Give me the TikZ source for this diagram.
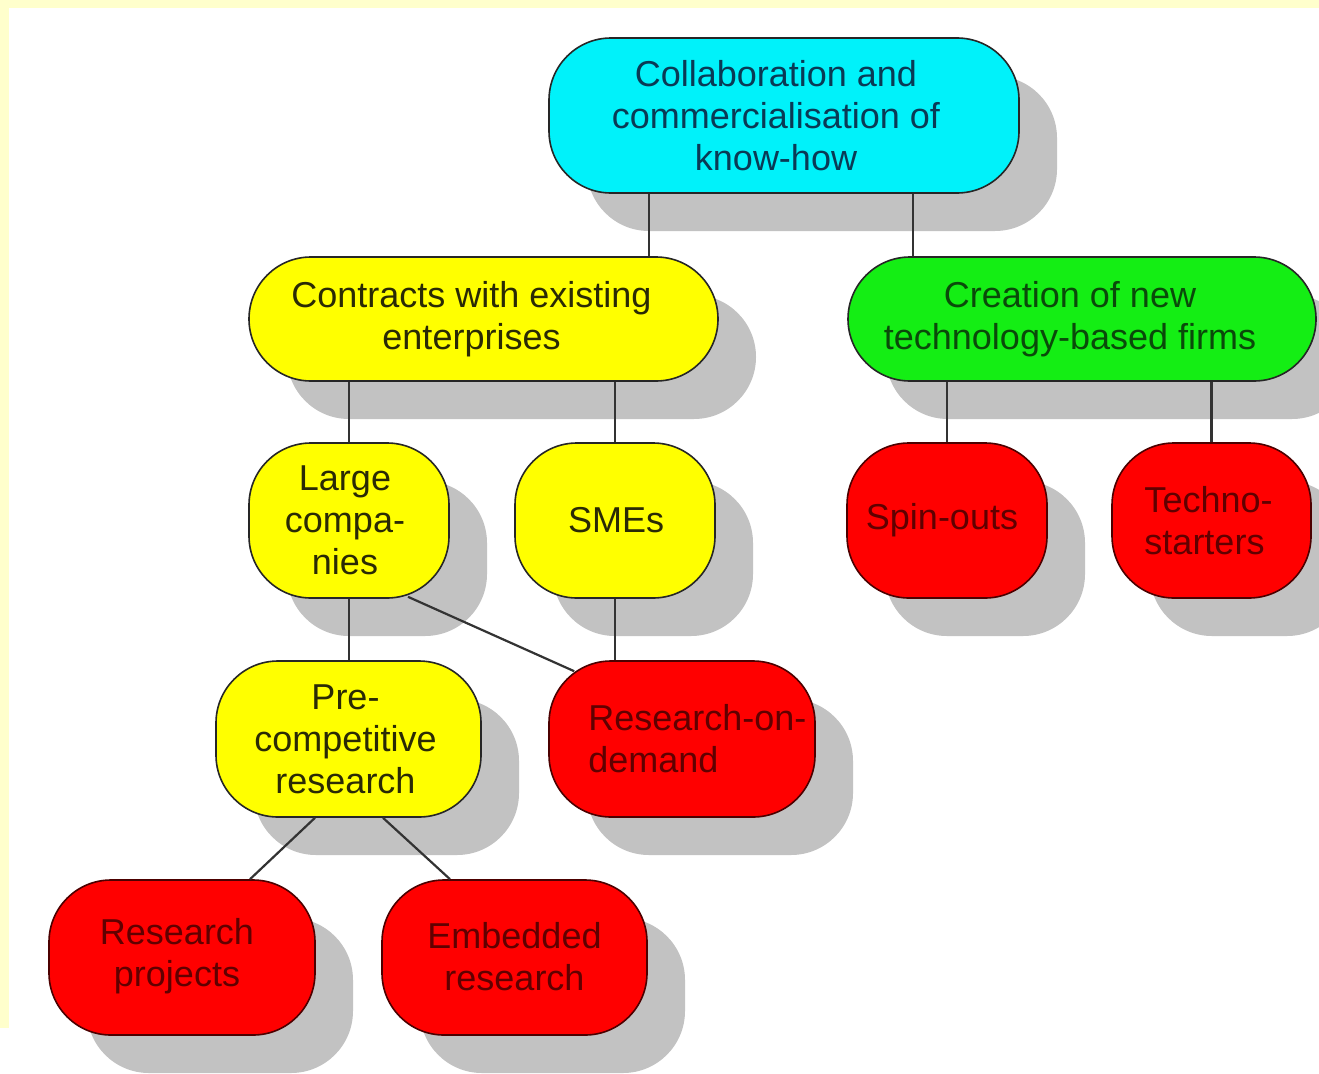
\documentclass[tikz,border=0pt]{standalone}
\usepackage{fontspec}
\setmainfont{Liberation Sans}
\usetikzlibrary{shadows}

\definecolor{paper}{HTML}{FFFFCC}
\definecolor{shade}{HTML}{C2C2C2}
\definecolor{boxcyan}{HTML}{00F2FA}
\definecolor{boxyellow}{HTML}{FFFF00}
\definecolor{boxgreen}{HTML}{14EE14}
\definecolor{boxred}{HTML}{FF0000}
\definecolor{inkcyan}{HTML}{0A3A55}
\definecolor{inkyellow}{HTML}{2A2A05}
\definecolor{inkgreen}{HTML}{0A4A0A}
\definecolor{inkred}{HTML}{600000}

\begin{document}
\begin{tikzpicture}[x=1pt, y=-1pt,
  box/.style={draw=black!85, line width=1.6pt, rounded corners=62pt,
    inner sep=0pt,
    drop shadow={shadow xshift=38pt, shadow yshift=-38pt, fill=shade, opacity=1}},
  topbox/.style={box, fill=boxcyan},
  midbox/.style={box, fill=boxyellow},
  newbox/.style={box, fill=boxgreen},
  endbox/.style={box, fill=boxred, draw=black!70!red},
  txt/.style={inner sep=0pt, align=center, font=\fontsize{36}{42}\selectfont, text=#1},
  conn/.style={draw=black!80, line width=2.2pt}]

% page: pale frame on top and left, white sheet
\useasboundingbox (0,0) rectangle (1319,1073);
\clip (0,0) rectangle (1319,1073);
\fill[paper] (0,0) rectangle (1319,1028);
\fill[white] (9,8) rectangle (1319,1073);
\fill[white] (0,1028) rectangle (1319,1073);

% boxes
\node[topbox, minimum width=470pt, minimum height=155pt] (top) at (784,115.5) {};
\node[midbox, minimum width=469pt, minimum height=124pt] (contracts) at (483.5,319) {};
\node[newbox, minimum width=468pt, minimum height=124pt] (creation) at (1082,319) {};
\node[midbox, minimum width=200pt, minimum height=155pt] (large) at (349,520.5) {};
\node[midbox, minimum width=200pt, minimum height=155pt] (smes) at (615,520.5) {};
\node[endbox, minimum width=200pt, minimum height=155pt] (spin) at (947,520.5) {};
\node[endbox, minimum width=199pt, minimum height=155pt] (techno) at (1211.5,520.5) {};
\node[midbox, minimum width=265pt, minimum height=156pt] (precomp) at (348.5,739) {};
\node[endbox, minimum width=266pt, minimum height=156pt] (rod) at (682,739) {};
\node[endbox, minimum width=266pt, minimum height=155pt] (projects) at (182,957.5) {};
\node[endbox, minimum width=265pt, minimum height=155pt] (embedded) at (514.5,957.5) {};

% labels
\node[txt=inkcyan] (top-t) at ([xshift=-8pt]top.center)
  {Collaboration and\\commercialisation of\\know-how};
\node[txt=inkyellow] (contracts-t) at ([xshift=-12pt]contracts.center)
  {Contracts with existing\\enterprises};
\node[txt=inkgreen] (creation-t) at ([xshift=-12pt]creation.center)
  {Creation of new\\technology-based firms};
\node[txt=inkyellow] (large-t) at ([xshift=-4pt]large.center) {Large\\compa-\\nies};
\node[txt=inkyellow] (smes-t) at ([xshift=1pt]smes.center) {SMEs};
\node[txt=inkred] (spin-t) at ([xshift=-5pt]spin.center) {Spin-outs};
\node[txt=inkred, align=left] (techno-t) at ([xshift=-3pt]techno.center) {Techno-\\starters};
\node[txt=inkyellow] (precomp-t) at ([xshift=-3pt]precomp.center) {Pre-\\competitive\\research};
\node[txt=inkred, align=left, anchor=west] (rod-t) at ([xshift=40pt]rod.west)
  {Research-on-\\demand};
\node[txt=inkred] (projects-t) at ([xshift=-5pt,yshift=1pt]projects.center) {Research\\projects};
\node[txt=inkred] (embedded-t) at ([yshift=1pt]embedded.center) {Embedded\\research};

% connectors
\draw[conn] ([xshift=-135pt]top.south) -- ([xshift=-135pt]top.south |- contracts.north);
\draw[conn] ([xshift=129pt]top.south) -- ([xshift=129pt]top.south |- creation.north);
\draw[conn] (contracts.south -| large.north) -- (large.north);
\draw[conn] (contracts.south -| smes.north) -- (smes.north);
\draw[conn] (creation.south -| spin.north) -- (spin.north);
\draw[conn] (creation.south -| techno.north) -- (techno.north);
\draw[conn] (large.south) -- (large.south |- precomp.north);
\draw[conn] (smes.south) -- (smes.south |- rod.north);
\draw[conn] ([xshift=59pt,yshift=2pt]large.south) -- ([xshift=26pt,yshift=-11pt]rod.north west);
\draw[conn] ([xshift=-33.5pt]precomp.south) -- ([xshift=68pt]projects.north);
\draw[conn] ([xshift=34.5pt]precomp.south) -- ([xshift=-64.5pt]embedded.north);
\end{tikzpicture}
\end{document}
